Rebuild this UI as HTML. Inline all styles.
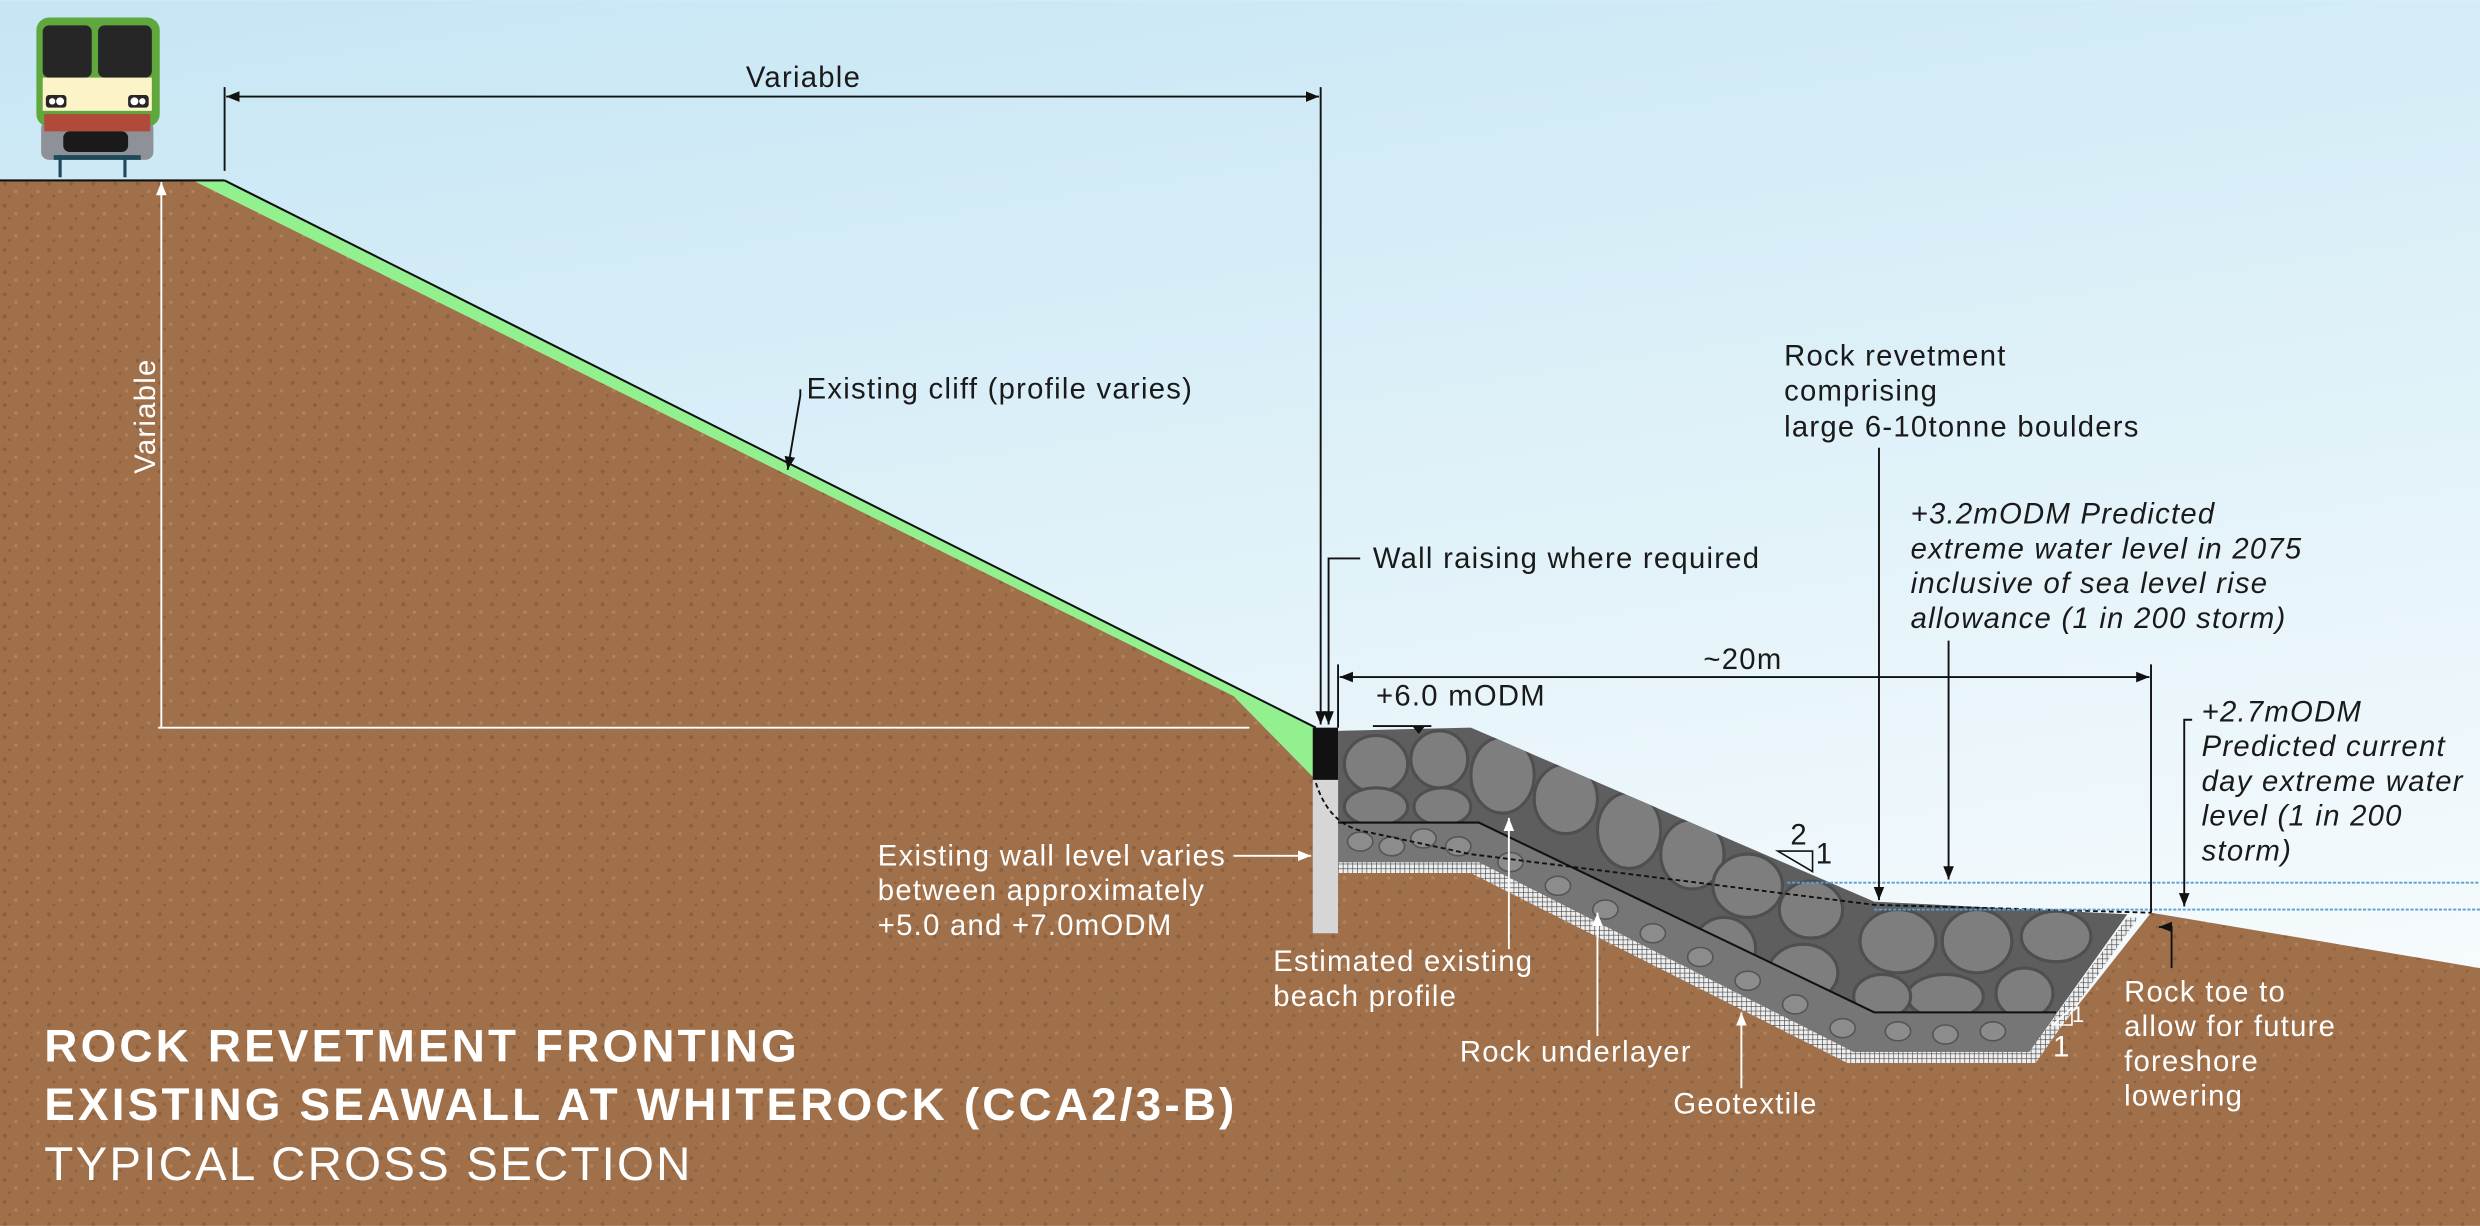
<!DOCTYPE html>
<html><head><meta charset="utf-8"><style>
html,body{margin:0;padding:0;width:2480px;height:1226px;overflow:hidden}
svg{display:block}
text{font-family:"Liberation Sans",sans-serif;font-size:18.5px;letter-spacing:0.8px}
.w{fill:#fff}.d{fill:#1a1a1a}.i{font-style:italic}
</style></head><body>
<svg width="2480" height="1226" viewBox="0 0 1568 775" xmlns="http://www.w3.org/2000/svg">
<defs>
<linearGradient id="sky" x1="0" y1="0" x2="0.3" y2="1">
<stop offset="0" stop-color="#c6e6f4"/><stop offset="1" stop-color="#f6fbfd"/></linearGradient>
<pattern id="dirt" width="14" height="14" patternUnits="userSpaceOnUse">
<rect width="14" height="14" fill="#a0704a"/>
<circle cx="3" cy="4" r="1.3" fill="#8c603d"/><circle cx="10" cy="9" r="1.1" fill="#b38259"/>
<circle cx="6" cy="12" r="0.9" fill="#8c603d"/></pattern>
<pattern id="mesh" width="3" height="3" patternUnits="userSpaceOnUse">
<rect width="3" height="3" fill="#eee"/><path d="M0 0H3M0 0V3" stroke="#444" stroke-width="0.8"/></pattern>
<clipPath id="rockclip"><polygon points="846,462 930,460 1185,570 1345,578 1283,665 1172,665 935,545 846,545"/></clipPath>
<marker id="ab" viewBox="0 0 10 10" refX="10" refY="5" markerWidth="7" markerHeight="7" orient="auto-start-reverse"><path d="M0,1 L10,5 L0,9 Z" fill="#111"/></marker>
<marker id="aw" viewBox="0 0 10 10" refX="10" refY="5" markerWidth="7" markerHeight="7" orient="auto-start-reverse"><path d="M0,1 L10,5 L0,9 Z" fill="#fff"/></marker>
</defs>
<rect width="1568" height="775" fill="url(#sky)"/>
<polygon points="0,114 122,114 780,440 832,493 846,493 846,548 935,548 1170,672 1285,672 1360,577 1568,612 1568,775 0,775" fill="url(#dirt)"/>
<polygon points="122,114 142,114 832,460 832,493 780,440" fill="#92f08e"/>
<line x1="142" y1="114" x2="832" y2="460" stroke="#111" stroke-width="1.3"/>
<line x1="0" y1="114" x2="142" y2="114" stroke="#111" stroke-width="1.3"/>
<polygon points="846,545 935,545 1172,665 1283,665 1345,580 1352,580 1287,672 1168,672 930,552 846,552" fill="url(#mesh)"/>
<polygon points="846,462 930,460 1185,570 1345,578 1283,665 1172,665 935,545 846,545" fill="#5e5e5e"/>
<g clip-path="url(#rockclip)" fill="#7e7e7e" stroke="#4f4f4f" stroke-width="2">
<ellipse cx="870" cy="483" rx="20" ry="18"/><ellipse cx="910" cy="480" rx="18" ry="18"/><ellipse cx="950" cy="490" rx="20" ry="24"/>
<ellipse cx="870" cy="510" rx="20" ry="12"/><ellipse cx="912" cy="510" rx="18" ry="12"/><ellipse cx="990" cy="505" rx="20" ry="22"/>
<ellipse cx="1030" cy="525" rx="20" ry="24"/><ellipse cx="1070" cy="540" rx="20" ry="22"/>
<ellipse cx="1105" cy="560" rx="22" ry="20"/><ellipse cx="1145" cy="575" rx="20" ry="18"/><ellipse cx="1090" cy="600" rx="20" ry="20"/><ellipse cx="1140" cy="615" rx="22" ry="18"/>
<ellipse cx="1200" cy="595" rx="24" ry="20"/><ellipse cx="1250" cy="595" rx="22" ry="20"/><ellipse cx="1300" cy="592" rx="22" ry="16"/>
<ellipse cx="1230" cy="630" rx="24" ry="14"/><ellipse cx="1280" cy="628" rx="18" ry="16"/><ellipse cx="1190" cy="630" rx="18" ry="14"/>
</g>
<polygon points="846,520 935,520 1185,640 1300,640 1283,665 1172,665 935,545 846,545" fill="#767676"/>
<g clip-path="url(#rockclip)" fill="#8c8c8c" stroke="#555" stroke-width="1">
<ellipse cx="860" cy="532" rx="8" ry="6"/><ellipse cx="880" cy="535" rx="8" ry="6"/><ellipse cx="900" cy="530" rx="8" ry="6"/><ellipse cx="922" cy="535" rx="8" ry="6"/>
<ellipse cx="955" cy="545" rx="8" ry="6"/><ellipse cx="985" cy="560" rx="8" ry="6"/><ellipse cx="1015" cy="575" rx="8" ry="6"/><ellipse cx="1045" cy="590" rx="8" ry="6"/>
<ellipse cx="1075" cy="605" rx="8" ry="6"/><ellipse cx="1105" cy="620" rx="8" ry="6"/><ellipse cx="1135" cy="635" rx="8" ry="6"/><ellipse cx="1165" cy="650" rx="8" ry="6"/>
<ellipse cx="1200" cy="652" rx="8" ry="6"/><ellipse cx="1230" cy="654" rx="8" ry="6"/><ellipse cx="1260" cy="652" rx="8" ry="6"/>
</g>
<polyline points="846,520 935,520 1185,640 1300,640" fill="none" stroke="#111" stroke-width="1.3"/>
<rect x="830" y="493" width="16" height="97" fill="#d6d6d6"/>
<rect x="830" y="460" width="16" height="33" fill="#111"/>
<path d="M832,495 Q840,520 860,525 L930,540 L1185,572 L1360,577" fill="none" stroke="#111" stroke-width="1.2" stroke-dasharray="3,2"/>
<line x1="1130" y1="558" x2="1568" y2="558" stroke="#5aa0d8" stroke-width="1.2" stroke-dasharray="2,1"/>
<line x1="1185" y1="575" x2="1568" y2="575" stroke="#5aa0d8" stroke-width="1.2" stroke-dasharray="2,1"/>
<!-- train -->
<rect x="26" y="76" width="71" height="25" rx="5" fill="#8e9197"/>
<rect x="23" y="11" width="78" height="69" rx="8" fill="#5fa83d"/>
<rect x="27" y="16" width="31" height="33" rx="4" fill="#262626"/>
<rect x="62" y="16" width="34" height="33" rx="4" fill="#262626"/>
<rect x="27" y="49" width="69" height="21" fill="#fdf3c8"/>
<rect x="29" y="60" width="13" height="8" rx="2" fill="#262626"/><circle cx="33" cy="64" r="2" fill="#fff"/><circle cx="38" cy="64" r="2.5" fill="#fff"/>
<rect x="81" y="60" width="13" height="8" rx="2" fill="#262626"/><circle cx="85" cy="64" r="2.5" fill="#fff"/><circle cx="90" cy="64" r="2" fill="#fff"/>
<rect x="28" y="72" width="67" height="11" fill="#b04a3a"/>
<rect x="40" y="83" width="41" height="13" rx="4" fill="#1a1a1a"/>
<rect x="34" y="98" width="55" height="3" fill="#1d4a5a"/>
<rect x="37" y="98" width="2" height="14" fill="#1d4a5a"/><rect x="78" y="98" width="2" height="14" fill="#1d4a5a"/>
<!-- dims -->
<line x1="142" y1="55" x2="142" y2="108" stroke="#111" stroke-width="1.2"/>
<line x1="835" y1="55" x2="835" y2="458" stroke="#111" stroke-width="1.2" marker-end="url(#ab)"/>
<line x1="143" y1="61" x2="834" y2="61" stroke="#111" stroke-width="1.2" marker-start="url(#ab)" marker-end="url(#ab)"/>
<text x="508" y="55" class="d" text-anchor="middle">Variable</text>
<line x1="102" y1="115" x2="102" y2="460" stroke="#fff" stroke-width="1.2" marker-start="url(#aw)"/>
<line x1="100" y1="460" x2="790" y2="460" stroke="#fff" stroke-width="1.2"/>
<text transform="translate(98,263) rotate(-90)" class="w" text-anchor="middle">Variable</text>
<text x="510" y="252" class="d">Existing cliff (profile varies)</text>
<polyline points="506,246 506,250 498,297" fill="none" stroke="#111" stroke-width="1.2" marker-end="url(#ab)"/>
<text x="868" y="359" class="d">Wall raising where required</text>
<polyline points="860,353 840,353 840,458" fill="none" stroke="#111" stroke-width="1.2" marker-end="url(#ab)"/>
<line x1="847" y1="428" x2="1359" y2="428" stroke="#111" stroke-width="1.2" marker-start="url(#ab)" marker-end="url(#ab)"/>
<line x1="846" y1="420" x2="846" y2="460" stroke="#111" stroke-width="1.2"/>
<line x1="1360" y1="420" x2="1360" y2="577" stroke="#111" stroke-width="1.2"/>
<text x="1102" y="423" class="d" text-anchor="middle">~20m</text>
<text x="870" y="446" class="d">+6.0 mODM</text>
<line x1="868" y1="459" x2="905" y2="459" stroke="#111" stroke-width="1.2"/>
<path d="M893,459 L901,459 L897,464 Z" fill="#111"/>
<text class="d"><tspan x="1128" y="231">Rock revetment</tspan><tspan x="1128" y="253">comprising</tspan><tspan x="1128" y="276">large 6-10tonne boulders</tspan></text>
<line x1="1188" y1="283" x2="1188" y2="569" stroke="#111" stroke-width="1.2" marker-end="url(#ab)"/>
<text class="d i"><tspan x="1208" y="331">+3.2mODM  Predicted</tspan><tspan x="1208" y="353">extreme water level in 2075</tspan><tspan x="1208" y="375">inclusive of sea level rise</tspan><tspan x="1208" y="397">allowance (1 in 200 storm)</tspan></text>
<line x1="1232" y1="405" x2="1232" y2="556" stroke="#111" stroke-width="1.2" marker-end="url(#ab)"/>
<text class="d i"><tspan x="1392" y="456">+2.7mODM</tspan><tspan x="1392" y="478">Predicted current</tspan><tspan x="1392" y="500">day extreme water</tspan><tspan x="1392" y="522">level (1 in 200</tspan><tspan x="1392" y="544">storm)</tspan></text>
<polyline points="1386,455 1381,455 1381,573" fill="none" stroke="#111" stroke-width="1.2" marker-end="url(#ab)"/>
<text x="1132" y="534" class="d">2</text>
<path d="M1124,538 L1146,538 L1146,551 Z" fill="none" stroke="#111" stroke-width="1"/>
<text x="1148" y="546" class="d">1</text>
<path d="M1298,648 L1310,637 L1310,648 Z" fill="none" stroke="#fff" stroke-width="1"/>
<text x="1310" y="646" class="w" style="font-size:14px">1</text>
<text x="1298" y="668" class="w">1</text>
<text class="w"><tspan x="555" y="547">Existing wall level varies</tspan><tspan x="555" y="569">between approximately</tspan><tspan x="555" y="591">+5.0 and +7.0mODM</tspan></text>
<line x1="780" y1="541" x2="829" y2="541" stroke="#fff" stroke-width="1.2" marker-end="url(#aw)"/>
<text class="w"><tspan x="805" y="614">Estimated existing</tspan><tspan x="805" y="636">beach profile</tspan></text>
<line x1="954" y1="600" x2="954" y2="517" stroke="#fff" stroke-width="1.2" marker-end="url(#aw)"/>
<text x="923" y="671" class="w">Rock underlayer</text>
<line x1="1010" y1="655" x2="1010" y2="577" stroke="#fff" stroke-width="1.2" marker-end="url(#aw)"/>
<text x="1058" y="704" class="w">Geotextile</text>
<line x1="1101" y1="688" x2="1101" y2="640" stroke="#fff" stroke-width="1.2" marker-end="url(#aw)"/>
<text class="w"><tspan x="1343" y="633">Rock toe to</tspan><tspan x="1343" y="655">allow for future</tspan><tspan x="1343" y="677">foreshore</tspan><tspan x="1343" y="699">lowering</tspan></text>
<polyline points="1373,612 1373,586 1365,586" fill="none" stroke="#111" stroke-width="1.2" marker-end="url(#ab)"/>
<text x="28" y="671" class="w" style="font-size:29px;font-weight:bold;letter-spacing:2px">ROCK REVETMENT FRONTING</text>
<text x="28" y="708" class="w" style="font-size:29px;font-weight:bold;letter-spacing:2px">EXISTING SEAWALL AT WHITEROCK (CCA2/3-B)</text>
<text x="28" y="746" class="w" style="font-size:30px;letter-spacing:1.4px">TYPICAL CROSS SECTION</text>
</svg>
</body></html>
